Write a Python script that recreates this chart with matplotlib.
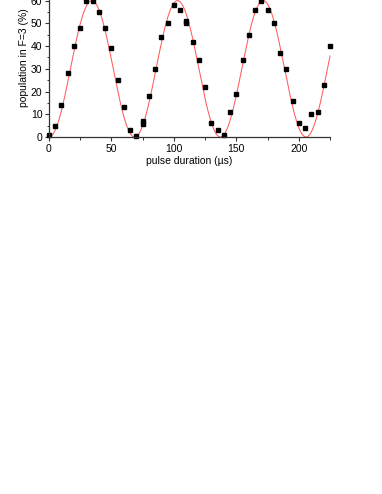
import numpy as np
import matplotlib
matplotlib.use('Agg')
import matplotlib.pyplot as plt

plt.rcParams['font.family'] = ['Liberation Sans', 'DejaVu Sans']

# measured points: pulse duration (us) vs population in F=3 (%)
duration = [0, 5, 10, 15, 20, 25, 30, 35, 40, 45, 50, 55, 60, 65, 70, 75, 75,
            80, 85, 90, 95, 100, 105, 110, 110, 115, 120, 125, 130, 135, 140,
            145, 150, 155, 160, 165, 170, 175, 180, 185, 190, 195, 200, 205,
            210, 215, 220, 225]
population = [1, 5, 14, 28, 40, 48, 60, 60, 55, 48, 39, 25, 13, 3, 0.5, 7, 5.5,
              18, 30, 44, 50, 58, 56, 51, 50, 42, 34, 22, 6, 3, 1,
              11, 19, 34, 45, 56, 60, 56, 50, 37, 30, 16, 6, 4,
              10, 11, 23, 40]

# Rabi fit parameters (amplitude %, period us, offset us)
fit_amp = 60.0
fit_period = 68.6
fit_t0 = 0.0

fig = plt.figure(figsize=(3.82, 4.94), dpi=100)
# axes top runs past the figure edge, like the cropped original
ax = fig.add_axes([49/382., 1 - 137/494., 281/382., 70*2.273/494.])

tt = np.linspace(0, 225, 600)
fit = fit_amp/2.*(1 - np.cos(2*np.pi*(tt - fit_t0)/fit_period))
ax.plot(tt, fit, '-', color='#ff5c5c', lw=0.75, clip_on=False)
ax.plot(duration, population, 's', color='k', ms=3.2, clip_on=False)

ax.set_xlim(0, 225)
ax.set_ylim(0, 70)
ax.set_xticks([0, 50, 100, 150, 200])
ax.set_xticks(np.arange(25, 226, 50), minor=True)
ax.set_yticks(np.arange(0, 71, 10))
ax.set_yticks(np.arange(5, 70, 10), minor=True)

ax.spines['top'].set_visible(False)
ax.spines['right'].set_visible(False)
for s in ['left', 'bottom']:
    ax.spines[s].set_linewidth(0.9)
    ax.spines[s].set_color('#333333')

ax.tick_params(which='major', direction='out', length=3.2, width=0.8,
               labelsize=7.5, pad=1.5, color='#333333')
ax.tick_params(which='minor', direction='out', length=1.8, width=0.7,
               color='#333333')

ax.set_xlabel('pulse duration (\u00b5s)', fontsize=7.5, labelpad=2)
ax.set_ylabel('population in F=3 (%)', fontsize=7.5, labelpad=1)

fig.savefig('out.png', dpi=100)
